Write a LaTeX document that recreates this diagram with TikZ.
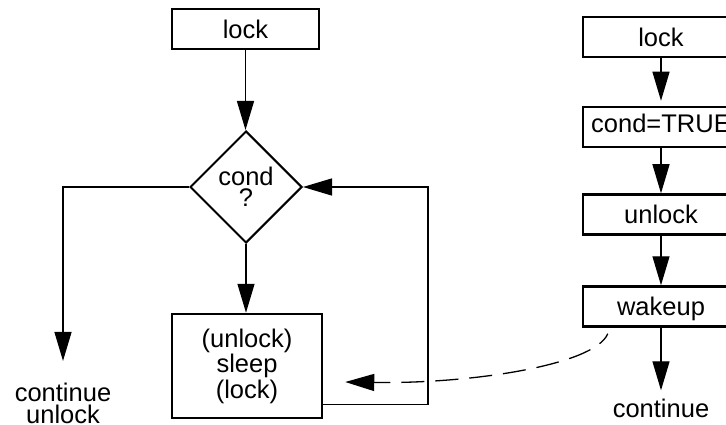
\documentclass[tikz,border=0pt]{standalone}
\usepackage{fontspec}
\setmainfont{Liberation Sans}
\usetikzlibrary{arrows.meta,shapes.geometric,calc}
\begin{document}
\begin{tikzpicture}[x=1pt,y=-1pt,
  box/.style={draw,line width=2.5pt,rectangle,inner sep=0pt,minimum height=40pt,
    text height=18.3pt,text depth=0pt,font=\fontsize{25.5}{25.5}\selectfont},
  conn/.style={line width=1.3pt,-{Triangle[length=29pt,width=17pt]}},
  txt/.style={inner sep=0pt,align=center,font=\fontsize{25.5}{22}\selectfont}]
\useasboundingbox (0,0) rectangle (726,425);
% left flow
\node[box,minimum width=147pt] (L1) at (245.5,29) {lock};
\node[draw,diamond,line width=2pt,inner sep=0pt,minimum width=112pt,minimum height=112pt,
  aspect=1,align=center,font=\fontsize{25.5}{21}\selectfont] (D) at (246,187) {cond\\?};
\node[draw,rectangle,line width=2.5pt,inner sep=0pt,minimum width=150pt,minimum height=104pt,
  align=center,font=\fontsize{25.5}{25.5}\selectfont] (S) at (247,366) {(unlock)\\sleep\\(lock)};
\node[txt] (cu) at (63,403.5) {continue\\unlock};
\coordinate (fb) at (428,187);
% right flow
\node[box,minimum width=156pt] (R1) at (661,37) {lock};
\node[box,minimum width=156pt,text depth=8pt] (R2) at (661,127) {cond=TRUE};
\node[box,minimum width=156pt] (R3) at (661,214.5) {unlock};
\node[box,minimum width=156pt] (R4) at (661,306.5) {wakeup};
\node[txt,anchor=base] (R5) at (661,417) {continue};
% connectors
\draw[conn] (L1.south) -- (L1.south |- D.north);
\draw[conn] (D.south) -- (D.south |- S.north);
\draw[conn] (D.west) -| ($(cu.north)+(0,-22)$);
\draw[conn] ($(S.south east)+(0,-15)$) -| (fb) -- (D.east);
\draw[conn,shorten >=5pt] (R1) -- (R2);
\draw[conn] (R2) -- (R3);
\draw[conn] (R3) -- (R4);
\draw[conn] (R4) -- ($(R5.north)+(0,-8)$);
\draw[conn,dash pattern=on 23pt off 11pt,dash phase=10pt]
  ($(R4.south west)+(26,6)$) .. controls ($(R4.south west)+(13,37.5)$) and (470,384) .. ($(S.east)+(22,16)$);
\end{tikzpicture}
\end{document}
